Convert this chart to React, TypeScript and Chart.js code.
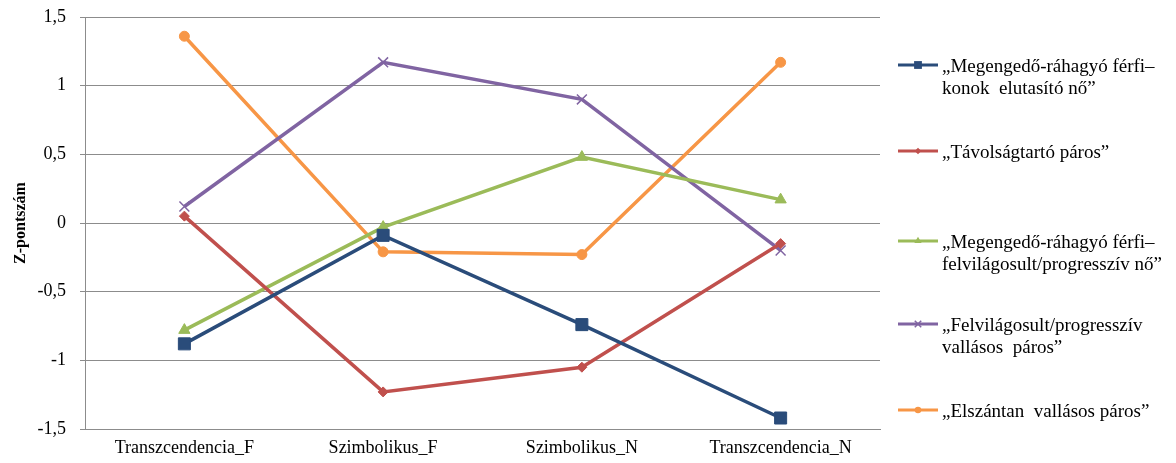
import React, { useEffect, useRef } from "react";
import { Chart, registerables } from "chart.js";

Chart.register(...registerables);

const categories = ["Transzcendencia_F", "Szimbolikus_F", "Szimbolikus_N", "Transzcendencia_N"];

const seriesNames: string[][] = [
  ["„Megengedő-ráhagyó férfi–", "konok  elutasító nő”"],
  ["„Távolságtartó páros”"],
  ["„Megengedő-ráhagyó férfi–", "felvilágosult/progresszív nő”"],
  ["„Felvilágosult/progresszív", "vallásos  páros”"],
  ["„Elszántan  vallásos páros”"],
];

const blueValues = [-0.88, -0.09, -0.74, -1.42];
const redValues = [0.05, -1.23, -1.05, -0.15];
const greenValues = [-0.78, -0.03, 0.48, 0.17];
const purpleValues = [0.12, 1.17, 0.9, -0.2];
const orangeValues = [1.36, -0.21, -0.23, 1.17];

const yTicks = [-1.5, -1, -0.5, 0, 0.5, 1, 1.5];
const yTitle = "Z-pontszám";

const colors = ["#2A4C7A", "#C0504D", "#9BBB59", "#8064A2", "#F79646"];
const markers = ["rect", "rectRot", "triangle", "crossRot", "circle"];
const markerSizes = [8.5, 5, 6.5, 7, 5];
const legendY = [65, 151, 241, 324, 410];

const SERIF = "'Liberation Serif', 'Times New Roman', serif";

function drawMarker(ctx: CanvasRenderingContext2D, style: string, r: number, x: number, y: number) {
  ctx.beginPath();
  if (style === "rect") {
    const s = r * Math.SQRT1_2;
    ctx.rect(x - s, y - s, 2 * s, 2 * s);
    ctx.fill();
  } else if (style === "rectRot") {
    ctx.moveTo(x, y - r);
    ctx.lineTo(x + r, y);
    ctx.lineTo(x, y + r);
    ctx.lineTo(x - r, y);
    ctx.closePath();
    ctx.fill();
  } else if (style === "triangle") {
    ctx.moveTo(x, y - r);
    ctx.lineTo(x + r * 0.866, y + r * 0.5);
    ctx.lineTo(x - r * 0.866, y + r * 0.5);
    ctx.closePath();
    ctx.fill();
  } else if (style === "crossRot") {
    const s = r * Math.SQRT1_2;
    ctx.moveTo(x - s, y - s);
    ctx.lineTo(x + s, y + s);
    ctx.moveTo(x - s, y + s);
    ctx.lineTo(x + s, y - s);
    ctx.lineWidth = 1.5;
    ctx.stroke();
  } else {
    ctx.arc(x, y, r, 0, Math.PI * 2);
    ctx.fill();
  }
}

export default function App() {
  const ref = useRef<HTMLCanvasElement>(null);
  useEffect(() => {
    const values = [blueValues, redValues, greenValues, purpleValues, orangeValues];
    const legendPlugin = {
      id: "customLegend",
      afterDraw(chart: any) {
        const ctx = chart.ctx;
        ctx.save();
        chart.data.datasets.forEach((ds: any, i: number) => {
          const y = legendY[i];
          ctx.strokeStyle = colors[i];
          ctx.fillStyle = colors[i];
          ctx.lineWidth = 3;
          ctx.beginPath();
          ctx.moveTo(898, y);
          ctx.lineTo(938, y);
          ctx.stroke();
          drawMarker(ctx, markers[i], markerSizes[i] * 0.65, 918, y);
          ctx.fillStyle = "#000";
          ctx.font = `19px ${SERIF}`;
          ctx.textBaseline = "middle";
          ctx.textAlign = "left";
          seriesNames[i].forEach((ln, j) => {
            ctx.fillText(ln, 942, y + 2 + j * 22);
          });
        });
        ctx.restore();
      },
    };
    const chart = new Chart(ref.current!, {
      type: "line",
      data: {
        labels: categories,
        datasets: values.map((v, i) => ({
          label: seriesNames[i].join(" "),
          data: v,
          borderColor: colors[i],
          backgroundColor: colors[i],
          borderWidth: 3.5,
          pointStyle: markers[i] as any,
          pointRadius: markerSizes[i],
          pointBorderColor: colors[i],
          pointBackgroundColor: colors[i],
          pointBorderWidth: markers[i] === "crossRot" ? 1.5 : 1,
          tension: 0,
          fill: false,
        })),
      },
      options: {
        animation: false,
        responsive: false,
        layout: { padding: { top: 17, right: 296, bottom: 0, left: 0 } },
        plugins: {
          legend: { display: false },
          tooltip: { enabled: false },
        },
        scales: {
          x: {
            offset: true,
            grid: { display: false, drawTicks: false },
            border: { display: true, color: "#8C8C8C", width: 1 },
            ticks: {
              color: "#000",
              font: { family: SERIF, size: 18 },
              padding: 8,
              maxRotation: 0,
              autoSkip: false,
            },
            afterFit(scale: any) {
              scale.height = 34;
            },
          },
          y: {
            min: -1.5,
            max: 1.5,
            afterBuildTicks(scale: any) {
              scale.ticks = yTicks.map((v) => ({ value: v }));
            },
            grid: { color: "#8C8C8C", lineWidth: 1, tickLength: 5, drawTicks: true },
            border: { display: true, color: "#8C8C8C", width: 1 },
            ticks: {
              color: "#000",
              font: { family: SERIF, size: 18 },
              padding: 14,
              callback: (v: any) => String(v).replace(".", ","),
            },
            title: {
              display: true,
              text: yTitle,
              color: "#000",
              font: { family: SERIF, size: 16, weight: "bold" },
              padding: { top: 11, bottom: 0 },
            },
            afterFit(scale: any) {
              scale.width = 85;
              scale.paddingTop = 0;
              scale.paddingBottom = 0;
            },
          },
        },
      },
      plugins: [legendPlugin],
    });
    return () => chart.destroy();
  }, []);
  return (
    <div style={{ position: "fixed", left: 0, top: 0, width: 1176, height: 463, background: "#fff" }}>
      <canvas ref={ref} width={1176} height={463} />
    </div>
  );
}
